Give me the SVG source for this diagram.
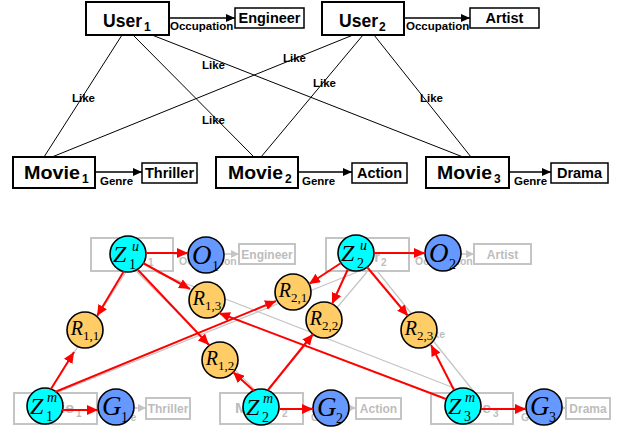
<svg xmlns="http://www.w3.org/2000/svg" width="632" height="434" viewBox="0 0 632 434">
  <defs>
    <style>
      .box { fill: #fff; stroke: #000; stroke-width: 2; }
      .lbox { fill: #fff; stroke: #000; stroke-width: 1.5; }
      .gbox { fill: none; stroke: #c4c4c4; stroke-width: 2; }
      .sans { font-family: "Liberation Sans", Arial, sans-serif; font-weight: bold; }
      .big { font-size: 18px; }
      .nsub { font-size: 12px; }
      .lab { font-size: 14.5px; text-anchor: middle; }
      .sm { font-size: 11.5px; }
      .gtxt { fill: #bdbdbd; }
      .gbig { font-size: 15px; }
      .gnsub { font-size: 10px; }
      .glab { font-size: 12px; text-anchor: middle; }
      .gsm { font-size: 10.5px; }
      .edge { stroke: #000; stroke-width: 1; fill: none; }
      .arr { stroke: #000; stroke-width: 1.5; marker-end: url(#ah); }
      .gedge { stroke: #c4c4c4; stroke-width: 1.2; fill: none; }
      .garr { stroke: #c4c4c4; stroke-width: 1.5; marker-end: url(#ah-gray); }
      .red { stroke: #ff0000; stroke-width: 2; marker-end: url(#ah-red); }
      .zc { fill: #00ffff; stroke: #000; stroke-width: 1.6; }
      .bc { fill: #6699ff; stroke: #000; stroke-width: 1.6; }
      .rc { fill: #ffcc66; stroke: #000; stroke-width: 1.6; }
      .math { font-family: "Liberation Serif", "Times New Roman", serif; fill: #000; }
      .mz { font-size: 24px; font-style: italic; }
      .mbig { font-size: 27px; font-style: italic; }
      .msup { font-size: 14px; font-style: italic; }
      .msub { font-size: 14px; }
      .mr { font-size: 20px; font-style: italic; text-anchor: middle; }
      .mrsub { font-size: 13px; font-style: normal; }
    </style>
    <marker id="ah" viewBox="0 0 10 10" refX="10" refY="5" markerWidth="9" markerHeight="8" markerUnits="userSpaceOnUse" orient="auto" preserveAspectRatio="none">
      <path d="M0,0 L10,5 L0,10 z" fill="#000"/>
    </marker>
    <marker id="ah-gray" viewBox="0 0 10 10" refX="10" refY="5" markerWidth="8" markerHeight="8" markerUnits="userSpaceOnUse" orient="auto" preserveAspectRatio="none">
      <path d="M0,0 L10,5 L0,10 z" fill="#c4c4c4"/>
    </marker>
    <marker id="ah-red" viewBox="0 0 10 10" refX="10" refY="5" markerWidth="11" markerHeight="10" markerUnits="userSpaceOnUse" orient="auto" preserveAspectRatio="none">
      <path d="M0,0 L10,5 L0,10 z" fill="#ff0000"/>
    </marker>
  </defs>

  <rect width="632" height="434" fill="#fff"/>

  <!-- ===== Upper graph: users, movies and attributes ===== -->
  <g id="top-connectors">
    <line class="edge" x1="122" y1="35" x2="44" y2="157"/>
    <line class="edge" x1="133" y1="35" x2="254" y2="157"/>
    <line class="edge" x1="152" y1="35" x2="463" y2="157"/>
    <line class="edge" x1="353" y1="35" x2="52" y2="157"/>
    <line class="edge" x1="363" y1="35" x2="261" y2="157"/>
    <line class="edge" x1="374" y1="35" x2="471" y2="157"/>
    <line class="arr" x1="169" y1="18" x2="235" y2="18"/>
    <line class="arr" x1="404" y1="18" x2="470" y2="18"/>
    <line class="arr" x1="95" y1="172" x2="142" y2="172"/>
    <line class="arr" x1="298" y1="172" x2="352" y2="172"/>
    <line class="arr" x1="509" y1="172" x2="551" y2="172"/>
    <g class="sans sm">
      <text x="72" y="102">Like</text>
      <text x="202" y="124">Like</text>
      <text x="202" y="69">Like</text>
      <text x="283" y="62">Like</text>
      <text x="313" y="87">Like</text>
      <text x="420" y="102">Like</text>
      <text x="170" y="30">Occupation</text>
      <text x="406" y="30">Occupation</text>
      <text x="100" y="185">Genre</text>
      <text x="302" y="185">Genre</text>
      <text x="514" y="185">Genre</text>
    </g>
  </g>

  <g id="user1">
    <rect class="box" x="86" y="2" width="83" height="33"/>
    <text class="sans big" x="103" y="27" textLength="39" lengthAdjust="spacingAndGlyphs">User</text>
    <text class="sans nsub" x="144" y="31">1</text>
  </g>
  <g id="user2">
    <rect class="box" x="322" y="2" width="82" height="33"/>
    <text class="sans big" x="339" y="27" textLength="39" lengthAdjust="spacingAndGlyphs">User</text>
    <text class="sans nsub" x="379" y="31">2</text>
  </g>
  <g id="engineer">
    <rect class="lbox" x="235" y="8" width="69" height="20"/>
    <text class="sans lab" x="269.5" y="23">Engineer</text>
  </g>
  <g id="artist">
    <rect class="lbox" x="470" y="8" width="69" height="20"/>
    <text class="sans lab" x="504.5" y="23">Artist</text>
  </g>
  <g id="movie1">
    <rect class="box" x="13" y="157" width="82" height="31"/>
    <text class="sans big" x="24" y="179" textLength="56" lengthAdjust="spacingAndGlyphs">Movie</text>
    <text class="sans nsub" x="82" y="183">1</text>
  </g>
  <g id="movie2">
    <rect class="box" x="216" y="157" width="82" height="31"/>
    <text class="sans big" x="228" y="179" textLength="55" lengthAdjust="spacingAndGlyphs">Movie</text>
    <text class="sans nsub" x="285" y="183">2</text>
  </g>
  <g id="movie3">
    <rect class="box" x="426" y="157" width="83" height="31"/>
    <text class="sans big" x="437" y="179" textLength="55" lengthAdjust="spacingAndGlyphs">Movie</text>
    <text class="sans nsub" x="494" y="183">3</text>
  </g>
  <g id="thriller">
    <rect class="lbox" x="142" y="163" width="55" height="20"/>
    <text class="sans lab" x="169.5" y="177.5">Thriller</text>
  </g>
  <g id="action">
    <rect class="lbox" x="352" y="163" width="55" height="20"/>
    <text class="sans lab" x="379.5" y="177.5">Action</text>
  </g>
  <g id="drama">
    <rect class="lbox" x="551" y="163" width="57" height="20"/>
    <text class="sans lab" x="579.5" y="177.5">Drama</text>
  </g>

  <!-- ===== Lower graph: faded copy of the schema underneath the model ===== -->
  <g id="faded-connectors">
    <line class="gedge" x1="126" y1="272" x2="48" y2="393"/>
    <line class="gedge" x1="137" y1="272" x2="258" y2="393"/>
    <line class="gedge" x1="156" y1="272" x2="467" y2="393"/>
    <line class="gedge" x1="357" y1="272" x2="56" y2="393"/>
    <line class="gedge" x1="367" y1="272" x2="265" y2="393"/>
    <line class="gedge" x1="378" y1="272" x2="475" y2="393"/>
    <line class="garr" x1="173" y1="254" x2="239" y2="254"/>
    <line class="garr" x1="409" y1="254" x2="474" y2="254"/>
    <line class="garr" x1="97" y1="408" x2="146" y2="408"/>
    <line class="garr" x1="303" y1="408" x2="356" y2="408"/>
    <line class="garr" x1="513" y1="408" x2="566" y2="408"/>
    <g class="sans gsm gtxt">
      <text x="424" y="338">Like</text>
      <text x="179" y="265">Occupation</text>
      <text x="415" y="265">Occupation</text>
      <text x="106" y="421">Genre</text>
      <text x="311" y="421">Genre</text>
      <text x="521" y="421">Genre</text>
    </g>
  </g>

  <g id="faded-user1">
    <rect class="gbox" x="91" y="238" width="82" height="33"/>
    <text class="sans gbig gtxt" x="113" y="262" textLength="32" lengthAdjust="spacingAndGlyphs">User</text>
    <text class="sans gnsub gtxt" x="148" y="266">1</text>
  </g>
  <g id="faded-user2">
    <rect class="gbox" x="326" y="238" width="83" height="33"/>
    <text class="sans gbig gtxt" x="347" y="262" textLength="33" lengthAdjust="spacingAndGlyphs">User</text>
    <text class="sans gnsub gtxt" x="381" y="266">2</text>
  </g>
  <g id="faded-engineer">
    <rect class="gbox" x="239" y="244" width="56" height="20"/>
    <text class="sans glab gtxt" x="267" y="259">Engineer</text>
  </g>
  <g id="faded-artist">
    <rect class="gbox" x="474" y="244" width="57" height="20"/>
    <text class="sans glab gtxt" x="502.5" y="259">Artist</text>
  </g>
  <g id="faded-movie1">
    <rect class="gbox" x="14" y="393" width="83" height="31"/>
    <text class="sans gbig gtxt" x="29" y="413" textLength="45" lengthAdjust="spacingAndGlyphs">Movie</text>
    <text class="sans gnsub gtxt" x="76" y="417">1</text>
  </g>
  <g id="faded-movie2">
    <rect class="gbox" x="220" y="393" width="83" height="31"/>
    <text class="sans gbig gtxt" x="235" y="413" textLength="45" lengthAdjust="spacingAndGlyphs">Movie</text>
    <text class="sans gnsub gtxt" x="282" y="417">2</text>
  </g>
  <g id="faded-movie3">
    <rect class="gbox" x="431" y="393" width="82" height="31"/>
    <text class="sans gbig gtxt" x="446" y="413" textLength="45" lengthAdjust="spacingAndGlyphs">Movie</text>
    <text class="sans gnsub gtxt" x="493" y="417">3</text>
  </g>
  <g id="faded-thriller">
    <rect class="gbox" x="146" y="398" width="44" height="21"/>
    <text class="sans glab gtxt" x="168" y="413">Thriller</text>
  </g>
  <g id="faded-action">
    <rect class="gbox" x="356" y="398" width="45" height="21"/>
    <text class="sans glab gtxt" x="378.5" y="413">Action</text>
  </g>
  <g id="faded-drama">
    <rect class="gbox" x="566" y="398" width="44" height="21"/>
    <text class="sans glab gtxt" x="588" y="413">Drama</text>
  </g>

  <!-- ===== Latent variables ===== -->
  <g id="z1u">
    <circle class="zc" cx="128" cy="254" r="18"/>
    <text class="math mz" x="113" y="262">Z</text>
    <text class="math msup" x="132" y="251">u</text>
    <text class="math msub" x="129" y="269">1</text>
  </g>
  <g id="z2u">
    <circle class="zc" cx="356" cy="253" r="18"/>
    <text class="math mz" x="341" y="261">Z</text>
    <text class="math msup" x="360" y="250">u</text>
    <text class="math msub" x="357" y="268">2</text>
  </g>
  <g id="o1">
    <circle class="bc" cx="206" cy="255" r="18"/>
    <text class="math mbig" x="192" y="264">O</text>
    <text class="math msub" x="212" y="271">1</text>
  </g>
  <g id="o2">
    <circle class="bc" cx="443" cy="253" r="18"/>
    <text class="math mbig" x="429" y="262">O</text>
    <text class="math msub" x="449" y="269">2</text>
  </g>
  <g id="r13">
    <circle class="rc" cx="207" cy="300" r="18"/>
    <text class="math mr" x="207" y="305">R<tspan class="mrsub" dy="5">1,3</tspan></text>
  </g>
  <g id="r21">
    <circle class="rc" cx="293" cy="292" r="18"/>
    <text class="math mr" x="293" y="297">R<tspan class="mrsub" dy="5">2,1</tspan></text>
  </g>
  <g id="r11">
    <circle class="rc" cx="85" cy="330" r="18"/>
    <text class="math mr" x="85" y="335">R<tspan class="mrsub" dy="5">1,1</tspan></text>
  </g>
  <g id="r22">
    <circle class="rc" cx="324" cy="320" r="18"/>
    <text class="math mr" x="324" y="325">R<tspan class="mrsub" dy="5">2,2</tspan></text>
  </g>
  <g id="r23">
    <circle class="rc" cx="419" cy="330" r="18"/>
    <text class="math mr" x="419" y="335">R<tspan class="mrsub" dy="5">2,3</tspan></text>
  </g>
  <g id="r12">
    <circle class="rc" cx="220" cy="360" r="18"/>
    <text class="math mr" x="220" y="365">R<tspan class="mrsub" dy="5">1,2</tspan></text>
  </g>
  <g id="z1m">
    <circle class="zc" cx="45" cy="406" r="18"/>
    <text class="math mz" x="30" y="414">Z</text>
    <text class="math msup" x="47" y="402">m</text>
    <text class="math msub" x="46" y="421">1</text>
  </g>
  <g id="g1">
    <circle class="bc" cx="116" cy="407" r="18"/>
    <text class="math mbig" x="102" y="415">G</text>
    <text class="math msub" x="121" y="422">1</text>
  </g>
  <g id="z2m">
    <circle class="zc" cx="261" cy="407" r="18"/>
    <text class="math mz" x="246" y="415">Z</text>
    <text class="math msup" x="263" y="403">m</text>
    <text class="math msub" x="262" y="422">2</text>
  </g>
  <g id="g2">
    <circle class="bc" cx="331" cy="408" r="18"/>
    <text class="math mbig" x="317" y="416">G</text>
    <text class="math msub" x="336" y="423">2</text>
  </g>
  <g id="z3m">
    <circle class="zc" cx="463" cy="406" r="18"/>
    <text class="math mz" x="448" y="414">Z</text>
    <text class="math msup" x="465" y="402">m</text>
    <text class="math msub" x="464" y="421">3</text>
  </g>
  <g id="g3">
    <circle class="bc" cx="544" cy="407" r="18"/>
    <text class="math mbig" x="530" y="415">G</text>
    <text class="math msub" x="549" y="422">3</text>
  </g>

  <!-- ===== Dependencies between latent variables ===== -->
  <g id="red-connectors">
    <line class="red" x1="146" y1="253" x2="188" y2="253"/>
    <line class="red" x1="143" y1="263" x2="190" y2="289"/>
    <line class="red" x1="124" y1="271" x2="97" y2="316"/>
    <line class="red" x1="138" y1="270" x2="209" y2="345"/>
    <line class="red" x1="51" y1="389" x2="74" y2="352"/>
    <line class="red" x1="55" y1="392" x2="276" y2="301"/>
    <line class="red" x1="62" y1="410" x2="98" y2="410"/>
    <line class="red" x1="254" y1="391" x2="233" y2="372"/>
    <line class="red" x1="268" y1="390" x2="313" y2="334"/>
    <line class="red" x1="279" y1="409" x2="313" y2="409"/>
    <line class="red" x1="341" y1="263" x2="309" y2="284"/>
    <line class="red" x1="348" y1="269" x2="332" y2="304"/>
    <line class="red" x1="367" y1="267" x2="408" y2="316"/>
    <line class="red" x1="374" y1="253" x2="425" y2="253"/>
    <line class="red" x1="454" y1="390" x2="431" y2="345"/>
    <line class="red" x1="481" y1="409" x2="526" y2="409"/>
    <line class="red" x1="446" y1="399" x2="219" y2="313"/>
  </g>
</svg>
